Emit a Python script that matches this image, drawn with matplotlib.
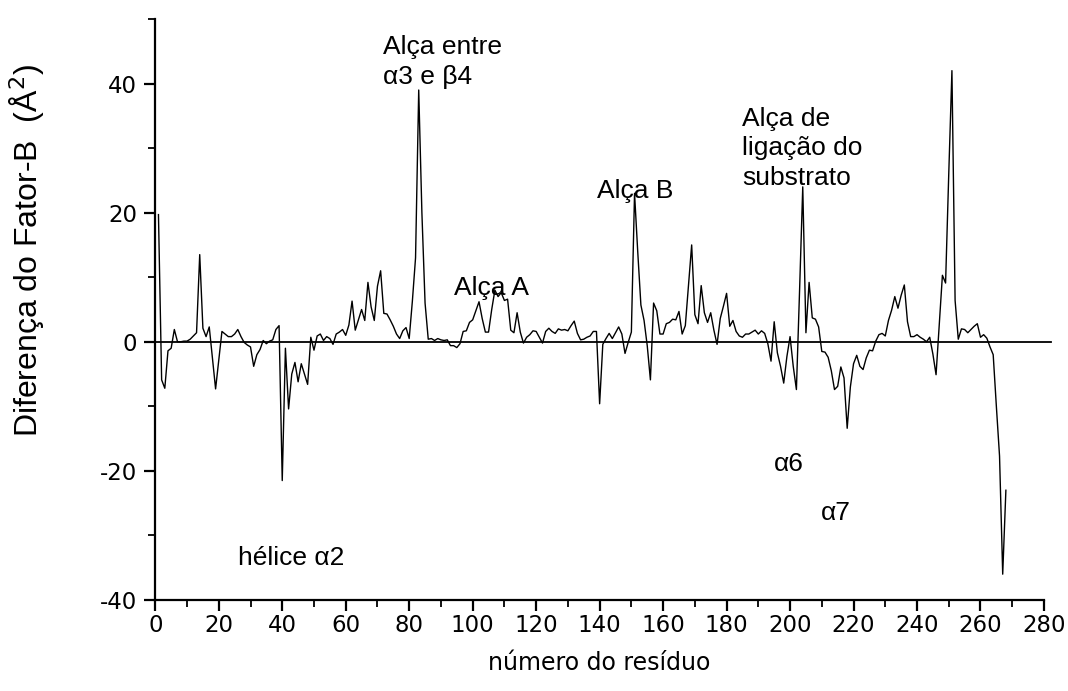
import numpy as np
import matplotlib
matplotlib.use("Agg")
from matplotlib import pyplot as plt
from matplotlib.ticker import MultipleLocator

plt.rcParams['font.family'] = ['Liberation Sans', 'DejaVu Sans']
plt.rcParams['axes.unicode_minus'] = False

# Diferença do fator-B por resíduo
residuos = np.arange(1, 269)
diferenca_b = [
    19.7, -5.9, -7.2, -1.4, -1.0, 1.9, 0.0, 0.0, 0.1, 0.1,      # 1-10
    0.4, 0.9, 1.4, 13.5, 2.1, 0.8, 2.3, -2.5, -7.3, -2.8,       # 11-20
    1.6, 1.2, 0.8, 0.8, 1.2, 1.9, 0.8, -0.1, -0.5, -0.8,        # 21-30
    -3.8, -2.0, -1.2, 0.2, -0.3, 0.1, 0.3, 1.9, 2.5, -21.5,     # 31-40
    -1.0, -10.4, -5.0, -3.2, -6.2, -3.4, -5.0, -6.6, 0.7, -1.3, # 41-50
    0.9, 1.2, 0.2, 0.8, 0.5, -0.4, 1.2, 1.5, 1.9, 1.0,          # 51-60
    2.6, 6.3, 1.8, 3.4, 5.0, 3.3, 9.2, 5.4, 3.3, 8.6,           # 61-70
    11.0, 4.4, 4.3, 3.4, 2.4, 1.2, 0.5, 1.7, 2.2, 0.5,          # 71-80
    6.3, 13.0, 39.0, 20.0, 6.0, 0.4, 0.5, 0.2, 0.5, 0.3,        # 81-90
    0.2, 0.3, -0.6, -0.6, -0.9, -0.3, 1.6, 1.7, 3.0, 3.4,       # 91-100
    4.8, 6.2, 3.6, 1.5, 1.5, 5.0, 8.0, 7.0, 7.6, 6.4,           # 101-110
    6.6, 1.8, 1.4, 4.5, 1.5, -0.2, 0.7, 1.1, 1.7, 1.6,          # 111-120
    0.7, -0.2, 1.6, 2.1, 1.6, 1.3, 2.0, 1.8, 1.9, 1.7,          # 121-130
    2.5, 3.2, 1.3, 0.3, 0.4, 0.7, 0.9, 1.6, 1.6, -9.6,          # 131-140
    -0.4, 0.5, 1.3, 0.5, 1.4, 2.3, 1.2, -1.8, -0.1, 1.5,        # 141-150
    23.0, 14.0, 5.7, 3.3, -0.6, -5.9, 6.0, 4.8, 1.2, 1.2,       # 151-160
    2.8, 3.0, 3.5, 3.4, 4.7, 1.2, 2.5, 8.7, 15.0, 4.2,          # 161-170
    2.8, 8.7, 4.5, 3.0, 4.5, 1.8, -0.4, 3.6, 5.5, 7.5,          # 171-180
    2.4, 3.3, 1.6, 0.9, 0.7, 1.2, 1.2, 1.5, 1.8, 1.2,           # 181-190
    1.7, 1.3, -0.3, -3.0, 3.1, -1.7, -3.8, -6.4, -2.3, 0.8,     # 191-200
    -3.8, -7.4, 8.0, 24.0, 1.4, 9.2, 3.7, 3.5, 2.3, -1.5,       # 201-210
    -1.6, -2.4, -4.5, -7.4, -6.9, -3.9, -5.6, -13.4, -7.0, -3.4,  # 211-220
    -2.1, -3.8, -4.3, -2.5, -1.3, -1.4, 0.1, 1.1, 1.3, 0.9,     # 221-230
    3.3, 4.9, 7.0, 5.2, 7.2, 8.8, 3.1, 0.8, 0.8, 1.1,           # 231-240
    0.7, 0.4, 0.0, 0.7, -1.9, -5.1, 2.6, 10.3, 9.1, 26.0,       # 241-250
    42.0, 6.4, 0.4, 2.0, 1.9, 1.4, 1.9, 2.4, 2.8, 0.7,          # 251-260
    1.1, 0.55, -0.8, -2.0, -10.0, -17.7, -36.0, -23.0,          # 261-268
]

# rótulos das regiões: (texto, x, y)
rotulos = [
    ('Alça entre\n\u03b13 e \u03b24', 71.7, 47.5),
    ('Alça A', 94.0, 10.2),
    ('Alça B', 139.2, 25.2),
    ('Alça de\nligação do\nsubstrato', 184.8, 36.4),
    ('\u03b16', 194.8, -17.1),
    ('\u03b17', 209.8, -24.7),
    ('hélice \u03b12', 26.0, -31.6),
]

fig, ax = plt.subplots(1)
fig.set_size_inches(10.68, 6.91)
fig.subplots_adjust(left=0.1454, right=0.9775, bottom=0.1317, top=0.9725)

ax.plot(residuos, diferenca_b, color='black', lw=1.0)
ax.axhline(0, xmin=0, xmax=1.008, color='black', lw=1.3, clip_on=False)

ax.set_xlim(0, 280)
ax.set_ylim(-40, 50)
ax.xaxis.set_major_locator(MultipleLocator(20))
ax.xaxis.set_minor_locator(MultipleLocator(10))
ax.yaxis.set_major_locator(MultipleLocator(20))
ax.yaxis.set_minor_locator(MultipleLocator(10))
ax.set_yticks([-40, -20, 0, 20, 40])

for s in ['top', 'right']:
    ax.spines[s].set_visible(False)
for s in ['left', 'bottom']:
    ax.spines[s].set_linewidth(1.6)

ax.tick_params(which='major', direction='out', length=8, width=1.6, pad=5)
ax.tick_params(axis='x', which='major', pad=2)
ax.tick_params(which='minor', direction='out', length=5, width=1.3)
for lab in ax.get_xticklabels() + ax.get_yticklabels():
    lab.set_family('DejaVu Sans')
    lab.set_fontsize(16.5)

ax.set_xlabel('número do resíduo', fontsize=17, family='DejaVu Sans')
ax.xaxis.set_label_coords(0.5, -0.088)
ax.set_ylabel('Diferença do Fator-B  (Å$^2$)', fontsize=23)
ax.yaxis.set_label_coords(-0.122, 0.602)

for texto, x, y in rotulos:
    ax.text(x, y, texto, fontsize=19, va='top', ha='left', linespacing=1.3)

fig.savefig('out.png', dpi=100)
plt.close(fig)
